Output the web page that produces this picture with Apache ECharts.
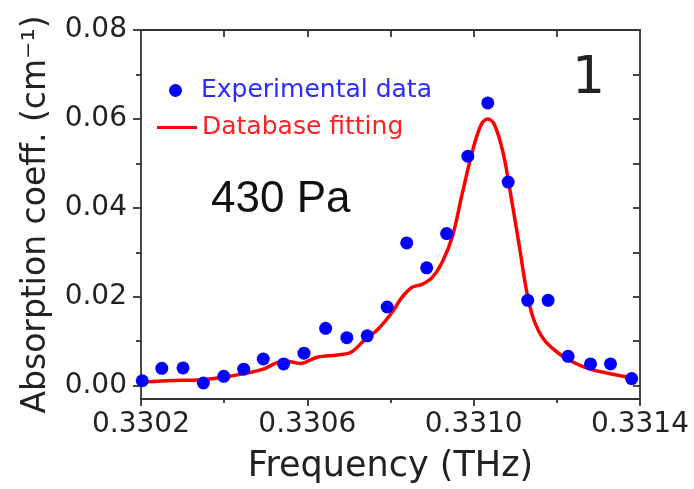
<!DOCTYPE html>
<html>
<head>
<meta charset="utf-8">
<script src="https://cdn.jsdelivr.net/npm/echarts@6/dist/echarts.min.js"></script>
<style>
html,body{margin:0;padding:0;background:#fff;}
#chart{width:694px;height:489px;}
</style>
</head>
<body>
<div id="chart"></div>
<script>
// Experimental data (frequency in THz, absorption coeff in cm^-1)
const freqExp = [0.330203, 0.330250, 0.330301, 0.330350, 0.330399, 0.330447, 0.330494, 0.330543, 0.330592, 0.330644, 0.330695, 0.330744, 0.330792, 0.330839, 0.330887, 0.330935, 0.330986, 0.331034, 0.331083, 0.331130, 0.331179, 0.331227, 0.331281, 0.331329, 0.331380];
const absExp = [0.0011, 0.0039, 0.0040, 0.0006, 0.0021, 0.0037, 0.0060, 0.0049, 0.0073, 0.0129, 0.0108, 0.0112, 0.0177, 0.0321, 0.0265, 0.0342, 0.0516, 0.0636, 0.0458, 0.0192, 0.0192, 0.0066, 0.0049, 0.0049, 0.0016];

// Database fitting curve
const freqFit = [0.330203, 0.330250, 0.330299, 0.330348, 0.330399, 0.330447, 0.330494, 0.330527, 0.330551, 0.330583, 0.330624, 0.330673, 0.330705, 0.330738, 0.330770, 0.330803, 0.330827, 0.330851, 0.330876, 0.330900, 0.330924, 0.330949, 0.330973, 0.330998, 0.331018, 0.331034, 0.331050, 0.331071, 0.331091, 0.331111, 0.331128, 0.331144, 0.331168, 0.331201, 0.331233, 0.331274, 0.331323, 0.331380];
const absFit = [0.00075, 0.00105, 0.0012, 0.00135, 0.0019, 0.0027, 0.0037, 0.0052, 0.0055, 0.0050, 0.0064, 0.0069, 0.0075, 0.0103, 0.0127, 0.0164, 0.0198, 0.0221, 0.0228, 0.0243, 0.0277, 0.0336, 0.0434, 0.0531, 0.0587, 0.0600, 0.0587, 0.0523, 0.0419, 0.0307, 0.0209, 0.0150, 0.0105, 0.0075, 0.0056, 0.0039, 0.0028, 0.0018];

// Tick values
const xMajorTicks = [0.3302, 0.3306, 0.3310, 0.3314];
const xMinorTicks = [0.3304, 0.3308, 0.3312];
const xTopTicks = [0.3304, 0.3306, 0.3308, 0.3310, 0.3312];
const yMajorTicks = [0.00, 0.02, 0.04, 0.06, 0.08];
const yMinorTicks = [0.01, 0.03, 0.05, 0.07];
const yRightTicks = [0.00, 0.01, 0.02, 0.03, 0.04, 0.05, 0.06, 0.07, 0.08];

const xMin = 0.3302, xMax = 0.3314, yMin = -0.003, yMax = 0.08;

const FONT = 'DejaVu Sans';
const AX = '#333333';
const TXT = '#222222';

const chart = echarts.init(document.getElementById('chart'), null, {renderer: 'canvas'});

const baseX = {type: 'value', min: xMin, max: xMax, splitLine: {show: false}, gridIndex: 0};
const baseY = {type: 'value', min: yMin, max: yMax, splitLine: {show: false}, gridIndex: 0};

const option = {
  backgroundColor: '#ffffff',
  animation: false,
  grid: {left: 141, right: 54, top: 30, bottom: 90, containLabel: false},
  legend: [
    {
      data: [{name: 'Experimental data', icon: 'circle', textStyle: {color: '#2b2bff'}}],
      left: 169, top: 78, padding: 0,
      itemWidth: 13, itemHeight: 13,
      textStyle: {fontFamily: FONT, fontSize: 25, padding: [0, 0, 0, 14]},
      selectedMode: false
    },
    {
      data: [{name: 'Database fitting', icon: 'rect', textStyle: {color: '#ff2020'}}],
      left: 157, top: 115, padding: 0,
      itemWidth: 40, itemHeight: 3,
      textStyle: {fontFamily: FONT, fontSize: 25},
      selectedMode: false
    }
  ],
  xAxis: [
    Object.assign({}, baseX, {
      position: 'bottom',
      axisLine: {show: true, onZero: false, lineStyle: {color: AX, width: 1.8}},
      axisTick: {show: true, inside: false, length: 7, customValues: xMajorTicks, lineStyle: {color: AX, width: 1.8}},
      axisLabel: {show: true, customValues: xMajorTicks, margin: 12, color: TXT, fontFamily: FONT, fontSize: 28,
        formatter: v => v.toFixed(4)},
      name: 'Frequency (THz)', nameLocation: 'middle', nameGap: 50,
      nameTextStyle: {color: TXT, fontFamily: FONT, fontSize: 35}
    }),
    Object.assign({}, baseX, {
      position: 'bottom',
      axisLine: {show: false, onZero: false},
      axisTick: {show: true, inside: false, length: 4, customValues: xMinorTicks, lineStyle: {color: AX, width: 1.8}},
      axisLabel: {show: false}
    }),
    Object.assign({}, baseX, {
      position: 'top',
      axisLine: {show: true, onZero: false, lineStyle: {color: AX, width: 1.8}},
      axisTick: {show: true, inside: true, length: 7, customValues: xTopTicks, lineStyle: {color: AX, width: 1.8}},
      axisLabel: {show: false}
    })
  ],
  yAxis: [
    Object.assign({}, baseY, {
      position: 'left',
      axisLine: {show: true, onZero: false, lineStyle: {color: AX, width: 1.8}},
      axisTick: {show: true, inside: false, length: 8, customValues: yMajorTicks, lineStyle: {color: AX, width: 1.8}},
      axisLabel: {show: true, customValues: yMajorTicks, margin: 14, color: TXT, fontFamily: FONT, fontSize: 28,
        formatter: v => v.toFixed(2)},
      name: 'Absorption coeff. (cm\u207B\u00B9)', nameLocation: 'middle', nameGap: 88,
      nameTextStyle: {color: TXT, fontFamily: FONT, fontSize: 33}
    }),
    Object.assign({}, baseY, {
      position: 'left',
      axisLine: {show: false, onZero: false},
      axisTick: {show: true, inside: false, length: 5, customValues: yMinorTicks, lineStyle: {color: AX, width: 1.8}},
      axisLabel: {show: false}
    }),
    Object.assign({}, baseY, {
      position: 'right',
      axisLine: {show: true, onZero: false, lineStyle: {color: AX, width: 1.8}},
      axisTick: {show: true, inside: true, length: 7, customValues: yRightTicks, lineStyle: {color: AX, width: 1.8}},
      axisLabel: {show: false}
    })
  ],
  series: [
    {
      name: 'Database fitting',
      type: 'line',
      xAxisIndex: 0, yAxisIndex: 0,
      data: freqFit.map((f, i) => [f, absFit[i]]),
      smooth: 0.35,
      showSymbol: false,
      symbol: 'none',
      itemStyle: {color: '#ff0000'},
      lineStyle: {color: '#ff0000', width: 3.5},
      z: 2
    },
    {
      name: 'Experimental data',
      type: 'scatter',
      xAxisIndex: 0, yAxisIndex: 0,
      data: freqExp.map((f, i) => [f, absExp[i]]),
      symbol: 'circle',
      symbolSize: 13,
      itemStyle: {color: '#0000ff', opacity: 1},
      z: 3
    }
  ],
  graphic: [
    {
      type: 'text', left: 211, top: 178, z: 10,
      style: {text: '430 Pa', fill: '#111111', font: '44px "Liberation Sans"'}
    },
    {
      type: 'text', left: 572, top: 53, z: 10,
      style: {text: '1', fill: '#222222', font: '52px "DejaVu Sans"'}
    }
  ]
};

chart.setOption(option);
</script>
</body>
</html>
